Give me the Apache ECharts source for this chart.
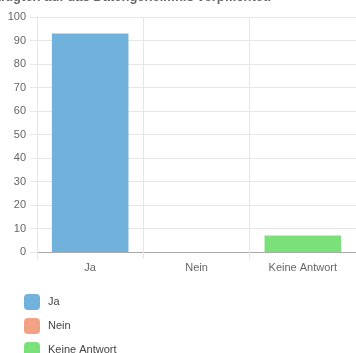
<!DOCTYPE html>
<html>
<head>
<meta charset="utf-8">
<script src="https://cdn.jsdelivr.net/npm/echarts@6/dist/echarts.min.js"></script>
<style>
  html, body { margin: 0; padding: 0; background: #fff; }
  #chart { width: 356px; height: 353px; }
</style>
</head>
<body>
<div id="chart"></div>
<script>
// Survey answers (percent)
const categories = ['Ja', 'Nein', 'Keine Antwort'];
const answerNames = ['Ja', 'Nein', 'Keine Antwort'];
const answerValues = [93, 0, 7];
const answerColors = ['#70b2dc', '#f3a183', '#7ae07a'];
const chartTitle = 'Sie haben alle Beschäftigten auf das Datengeheimnis verpflichtet.';

const font = 'Liberation Sans, Arial, sans-serif';

// One series per answer so each gets its own legend entry; stacking keeps the bars centred.
const series = answerNames.map((name, i) => ({
  name: name,
  type: 'bar',
  stack: 'answers',
  barWidth: '72%',
  itemStyle: { color: answerColors[i] },
  data: categories.map((c, j) => (j === i ? answerValues[i] : '-'))
}));

const chart = echarts.init(document.getElementById('chart'), null, { renderer: 'canvas' });
chart.setOption({
  animation: false,
  textStyle: { fontFamily: font },
  graphic: [{
    type: 'text',
    x: 271,
    y: 4,
    style: {
      text: chartTitle,
      font: 'bold 13px ' + font,
      fill: '#666',
      textAlign: 'right',
      textVerticalAlign: 'bottom'
    }
  }],
  grid: { left: 37, right: 0, top: 17, bottom: 101, containLabel: false },
  legend: {
    orient: 'vertical',
    left: 19,
    top: 289,
    height: 80,
    itemWidth: 16,
    itemHeight: 16,
    itemGap: 8,
    icon: 'roundRect',
    textStyle: { color: '#444', fontSize: 11, fontFamily: font, padding: [0, 0, 0, 3] },
    data: answerNames
  },
  xAxis: {
    type: 'category',
    data: categories,
    boundaryGap: true,
    axisLine: { lineStyle: { color: '#aaa' } },
    axisTick: { show: true, length: 7, lineStyle: { color: '#e6e6e6' } },
    splitLine: { show: true, lineStyle: { color: '#e6e6e6' } },
    axisLabel: { color: '#666', fontSize: 11, margin: 10 }
  },
  yAxis: {
    type: 'value',
    min: 0,
    max: 100,
    interval: 10,
    axisLine: { show: true, lineStyle: { color: '#e6e6e6' } },
    axisTick: { show: true, length: 7, lineStyle: { color: '#e6e6e6' } },
    splitLine: { show: true, lineStyle: { color: '#e6e6e6' } },
    axisLabel: { color: '#666', fontSize: 11, margin: 11 }
  },
  series: series
});
</script>
</body>
</html>
